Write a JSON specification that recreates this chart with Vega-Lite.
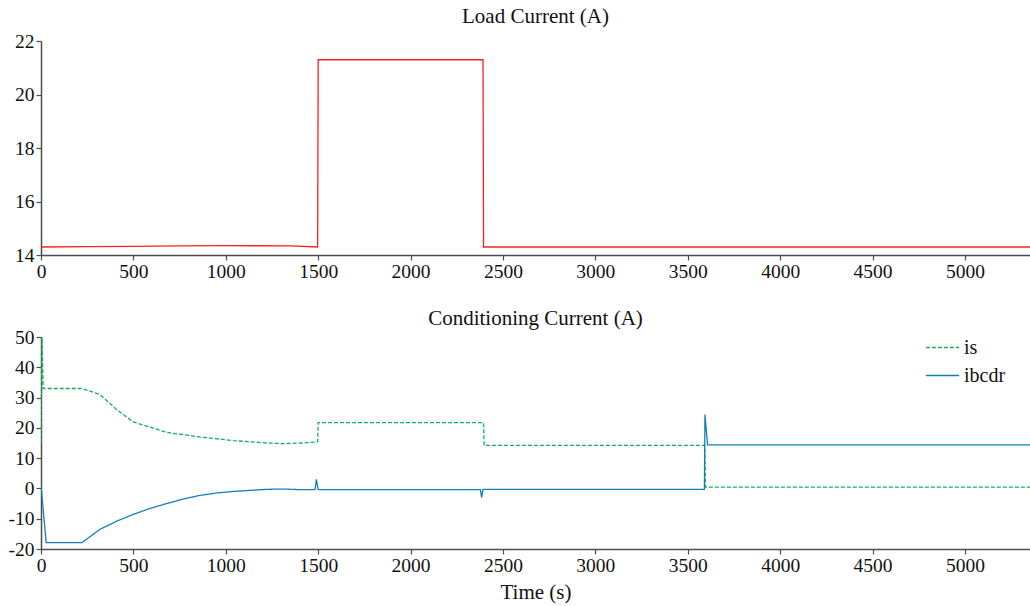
{
  "$schema": "https://vega.github.io/schema/vega-lite/v6.json",
  "padding": {"left": 8, "top": 6, "right": 0, "bottom": 2},
  "autosize": {"type": "pad"},
  "background": "white",
  "spacing": 27,
  "config": {
    "font": "Liberation Serif",
    "view": {"stroke": null},
    "axis": {
      "labelFont": "Liberation Serif",
      "titleFont": "Liberation Serif",
      "labelFontSize": 19.5,
      "titleFontSize": 21,
      "titleFontWeight": "normal",
      "labelColor": "#111111",
      "titleColor": "#111111",
      "domainColor": "#4d4d4d",
      "tickColor": "#4d4d4d",
      "domainWidth": 1.5,
      "tickWidth": 1.2,
      "tickSize": 5,
      "grid": false
    },
    "legend": {"labelFont": "Liberation Serif", "labelFontSize": 20},
    "title": {"font": "Liberation Serif", "fontSize": 21, "fontWeight": "normal", "color": "#111111"}
  },
  "datasets": {
    "load": [
      {"t": 0, "v": 14.3},
      {"t": 250, "v": 14.31},
      {"t": 500, "v": 14.32},
      {"t": 750, "v": 14.34},
      {"t": 1000, "v": 14.35},
      {"t": 1350, "v": 14.34},
      {"t": 1497, "v": 14.3},
      {"t": 1500, "v": 21.3},
      {"t": 2392, "v": 21.3},
      {"t": 2395, "v": 14.3},
      {"t": 5352, "v": 14.3}
    ],
    "cond": [
      {"t": 0, "v": 15, "s": "is"},
      {"t": 5, "v": 50, "s": "is"},
      {"t": 12, "v": 33, "s": "is"},
      {"t": 222, "v": 33, "s": "is"},
      {"t": 319, "v": 31, "s": "is"},
      {"t": 410, "v": 26, "s": "is"},
      {"t": 498, "v": 22, "s": "is"},
      {"t": 680, "v": 18.5, "s": "is"},
      {"t": 860, "v": 17, "s": "is"},
      {"t": 1040, "v": 15.8, "s": "is"},
      {"t": 1222, "v": 15, "s": "is"},
      {"t": 1311, "v": 14.8, "s": "is"},
      {"t": 1420, "v": 15, "s": "is"},
      {"t": 1497, "v": 15.4, "s": "is"},
      {"t": 1500, "v": 21.7, "s": "is"},
      {"t": 2395, "v": 21.7, "s": "is"},
      {"t": 2398, "v": 14.2, "s": "is"},
      {"t": 3592, "v": 14.2, "s": "is"},
      {"t": 3596, "v": 0.4, "s": "is"},
      {"t": 5352, "v": 0.4, "s": "is"},
      {"t": 0, "v": 1, "s": "ibcdr"},
      {"t": 28, "v": -17.9, "s": "ibcdr"},
      {"t": 222, "v": -17.9, "s": "ibcdr"},
      {"t": 319, "v": -13.5, "s": "ibcdr"},
      {"t": 410, "v": -10.8, "s": "ibcdr"},
      {"t": 498, "v": -8.6, "s": "ibcdr"},
      {"t": 590, "v": -6.6, "s": "ibcdr"},
      {"t": 680, "v": -5, "s": "ibcdr"},
      {"t": 770, "v": -3.5, "s": "ibcdr"},
      {"t": 860, "v": -2.3, "s": "ibcdr"},
      {"t": 950, "v": -1.5, "s": "ibcdr"},
      {"t": 1040, "v": -1, "s": "ibcdr"},
      {"t": 1222, "v": -0.3, "s": "ibcdr"},
      {"t": 1311, "v": -0.2, "s": "ibcdr"},
      {"t": 1401, "v": -0.4, "s": "ibcdr"},
      {"t": 1483, "v": -0.4, "s": "ibcdr"},
      {"t": 1490, "v": 3, "s": "ibcdr"},
      {"t": 1500, "v": -0.4, "s": "ibcdr"},
      {"t": 2378, "v": -0.4, "s": "ibcdr"},
      {"t": 2384, "v": -3, "s": "ibcdr"},
      {"t": 2392, "v": -0.3, "s": "ibcdr"},
      {"t": 3590, "v": -0.3, "s": "ibcdr"},
      {"t": 3593, "v": 24.4, "s": "ibcdr"},
      {"t": 3607, "v": 14.4, "s": "ibcdr"},
      {"t": 5352, "v": 14.4, "s": "ibcdr"}
    ]
  },
  "vconcat": [
    {
      "width": 989,
      "height": 214,
      "title": {"text": "Load Current (A)", "offset": 4},
      "data": {"name": "load"},
      "mark": {"type": "line", "color": "#ff1f1f", "strokeWidth": 1.3, "clip": true},
      "encoding": {
        "x": {
          "field": "t", "type": "quantitative",
          "scale": {"domain": [0, 5352], "nice": false, "zero": false},
          "axis": {"values": [0, 500, 1000, 1500, 2000, 2500, 3000, 3500, 4000, 4500, 5000], "title": null, "labelFlush": false, "labelFont": "Liberation Serif", "labelExpr": "'' + datum.value"}
        },
        "y": {
          "field": "v", "type": "quantitative",
          "scale": {"domain": [14, 22], "nice": false, "zero": false},
          "axis": {"values": [14, 16, 18, 20, 22], "title": null, "labelFlush": false, "labelFont": "Liberation Serif", "labelExpr": "'' + datum.value"}
        }
      }
    },
    {
      "width": 989,
      "height": 212,
      "title": {"text": "Conditioning Current (A)", "offset": -2},
      "data": {"name": "cond"},
      "mark": {"type": "line", "strokeWidth": 1.3, "clip": true},
      "encoding": {
        "x": {
          "field": "t", "type": "quantitative",
          "scale": {"domain": [0, 5352], "nice": false, "zero": false},
          "axis": {"values": [0, 500, 1000, 1500, 2000, 2500, 3000, 3500, 4000, 4500, 5000], "title": "Time (s)", "labelFlush": false, "titlePadding": 7, "labelFont": "Liberation Serif", "titleFont": "Liberation Serif", "labelExpr": "'' + datum.value"}
        },
        "y": {
          "field": "v", "type": "quantitative",
          "scale": {"domain": [-20, 50], "nice": false, "zero": false},
          "axis": {"values": [-20, -10, 0, 10, 20, 30, 40, 50], "title": null, "labelFlush": false, "labelFont": "Liberation Serif", "labelExpr": "'' + datum.value"}
        },
        "color": {
          "field": "s", "type": "nominal",
          "scale": {"domain": ["is", "ibcdr"], "range": ["#13b156", "#1280b6"]},
          "legend": {
            "title": null, "orient": "none", "legendX": 884, "legendY": 289,
            "symbolType": "stroke", "symbolSize": 1100, "symbolStrokeWidth": 1.3,
            "labelFontSize": 20, "labelFont": "Liberation Serif", "labelColor": "#111111",
            "labelOffset": 4, "rowPadding": 0
          }
        },
        "strokeDash": {
          "field": "s", "type": "nominal",
          "scale": {"domain": ["is", "ibcdr"], "range": [[4, 2], [1, 0]]},
          "legend": {
            "title": null, "orient": "none", "legendX": 884, "legendY": 289,
            "symbolType": "stroke", "symbolSize": 1100, "symbolStrokeWidth": 1.3,
            "labelFontSize": 20, "labelFont": "Liberation Serif", "labelColor": "#111111",
            "labelOffset": 4, "rowPadding": 0
          }
        }
      }
    }
  ]
}
